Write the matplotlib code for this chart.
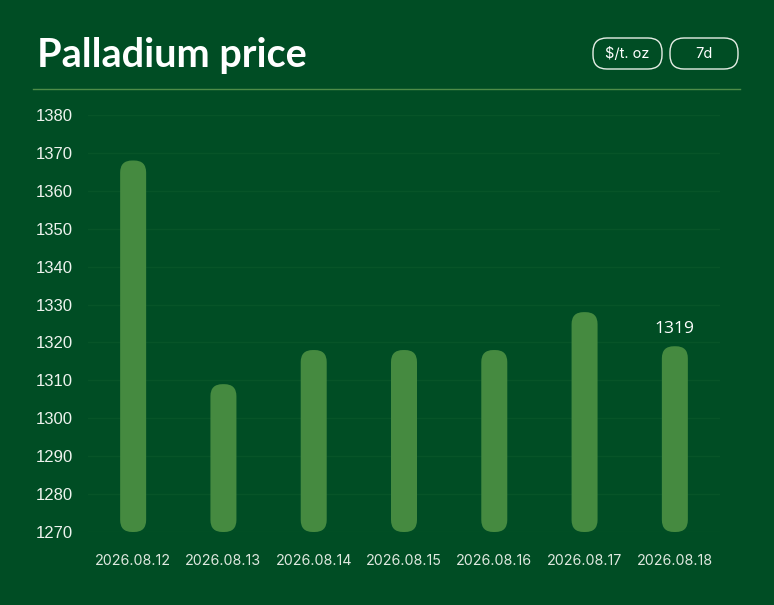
import matplotlib
matplotlib.use("Agg")
import matplotlib.pyplot as plt
from matplotlib.patches import FancyBboxPatch
import matplotlib.lines as mlines

# data
dates = ["2026.08.12", "2026.08.13", "2026.08.14", "2026.08.15",
         "2026.08.16", "2026.08.17", "2026.08.18"]
prices = [1368, 1309, 1318, 1318, 1318, 1328, 1319]
y_ticks = [1270, 1280, 1290, 1300, 1310, 1320, 1330, 1340, 1350, 1360, 1370, 1380]
title = "Palladium price"
unit_btn = "$/t. oz"
range_btn = "7d"

BG = "#004d24"
BAR = "#458a40"
GRID = "#075428"
LINE = "#4e8d48"
TXT = "#eef3ee"

W, H = 774, 605
fig = plt.figure(figsize=(W / 100, H / 100), dpi=100, facecolor=BG)

# axes placed in pixel terms
ax_l, ax_r, ax_t, ax_b = 88, 720, 115, 532
ax = fig.add_axes([ax_l / W, 1 - ax_b / H, (ax_r - ax_l) / W, (ax_b - ax_t) / H])
ax.set_facecolor(BG)
ax.set_xlim(-0.5, len(dates) - 0.5)
ax.set_ylim(y_ticks[0], y_ticks[-1])

for s in ax.spines.values():
    s.set_visible(False)

ax.set_yticks(y_ticks)
ax.set_yticklabels([str(t) for t in y_ticks], family=["Liberation Sans Narrow", "Liberation Sans"],
                   fontsize=12, color=TXT)
ax.set_xticks(range(len(dates)))
ax.set_xticklabels(dates, family=["Inter", "DejaVu Sans"], fontsize=10.3, color="#dfe8df")
ax.tick_params(axis="y", length=0, pad=11)
ax.tick_params(axis="x", length=0, pad=16)
ax.grid(axis="y", color=GRID, linewidth=1)
ax.set_axisbelow(True)

# rounded bars
xpp = (len(dates)) / (ax_r - ax_l)          # data x per pixel
ypp = (y_ticks[-1] - y_ticks[0]) / (ax_b - ax_t)  # data y per pixel
bw = 26 * xpp
r = 12 * xpp
for i, v in enumerate(prices):
    p = FancyBboxPatch((i - bw / 2, y_ticks[0]), bw, v - y_ticks[0],
                       boxstyle=f"round,pad=0,rounding_size={r}",
                       mutation_aspect=ypp / xpp,
                       facecolor=BAR, edgecolor="none", zorder=3)
    ax.add_patch(p)

ax.text(len(dates) - 1, prices[-1] + 9 * ypp, str(prices[-1]), ha="center", va="bottom",
        fontsize=12.5, color="white", family=["Open Sans", "DejaVu Sans"], zorder=4)

# header
fig.text(37 / W, 1 - 67 / H, title, fontsize=28.5, fontweight="bold", color="white",
         family=["Lato", "DejaVu Sans"], ha="left", va="baseline")

for (x0, x1, lab) in [(593, 662, unit_btn), (670, 738, range_btn)]:
    btn = FancyBboxPatch((x0 / W, 1 - 69 / H), (x1 - x0) / W, 31 / H,
                         boxstyle="round,pad=0,rounding_size=0.018",
                         mutation_aspect=W / H,
                         transform=fig.transFigure, facecolor="none",
                         edgecolor="#e6eee6", linewidth=1)
    fig.patches.append(btn)
    fig.text((x0 + x1) / 2 / W, 1 - 54 / H, lab, fontsize=10.5, color="white",
             family=["Inter", "DejaVu Sans"], ha="center", va="center")

fig.add_artist(mlines.Line2D([33 / W, 740 / W], [1 - 89 / H, 1 - 89 / H],
                             transform=fig.transFigure, color=LINE, linewidth=1))

fig.savefig("out.png", dpi=100, facecolor=BG)
